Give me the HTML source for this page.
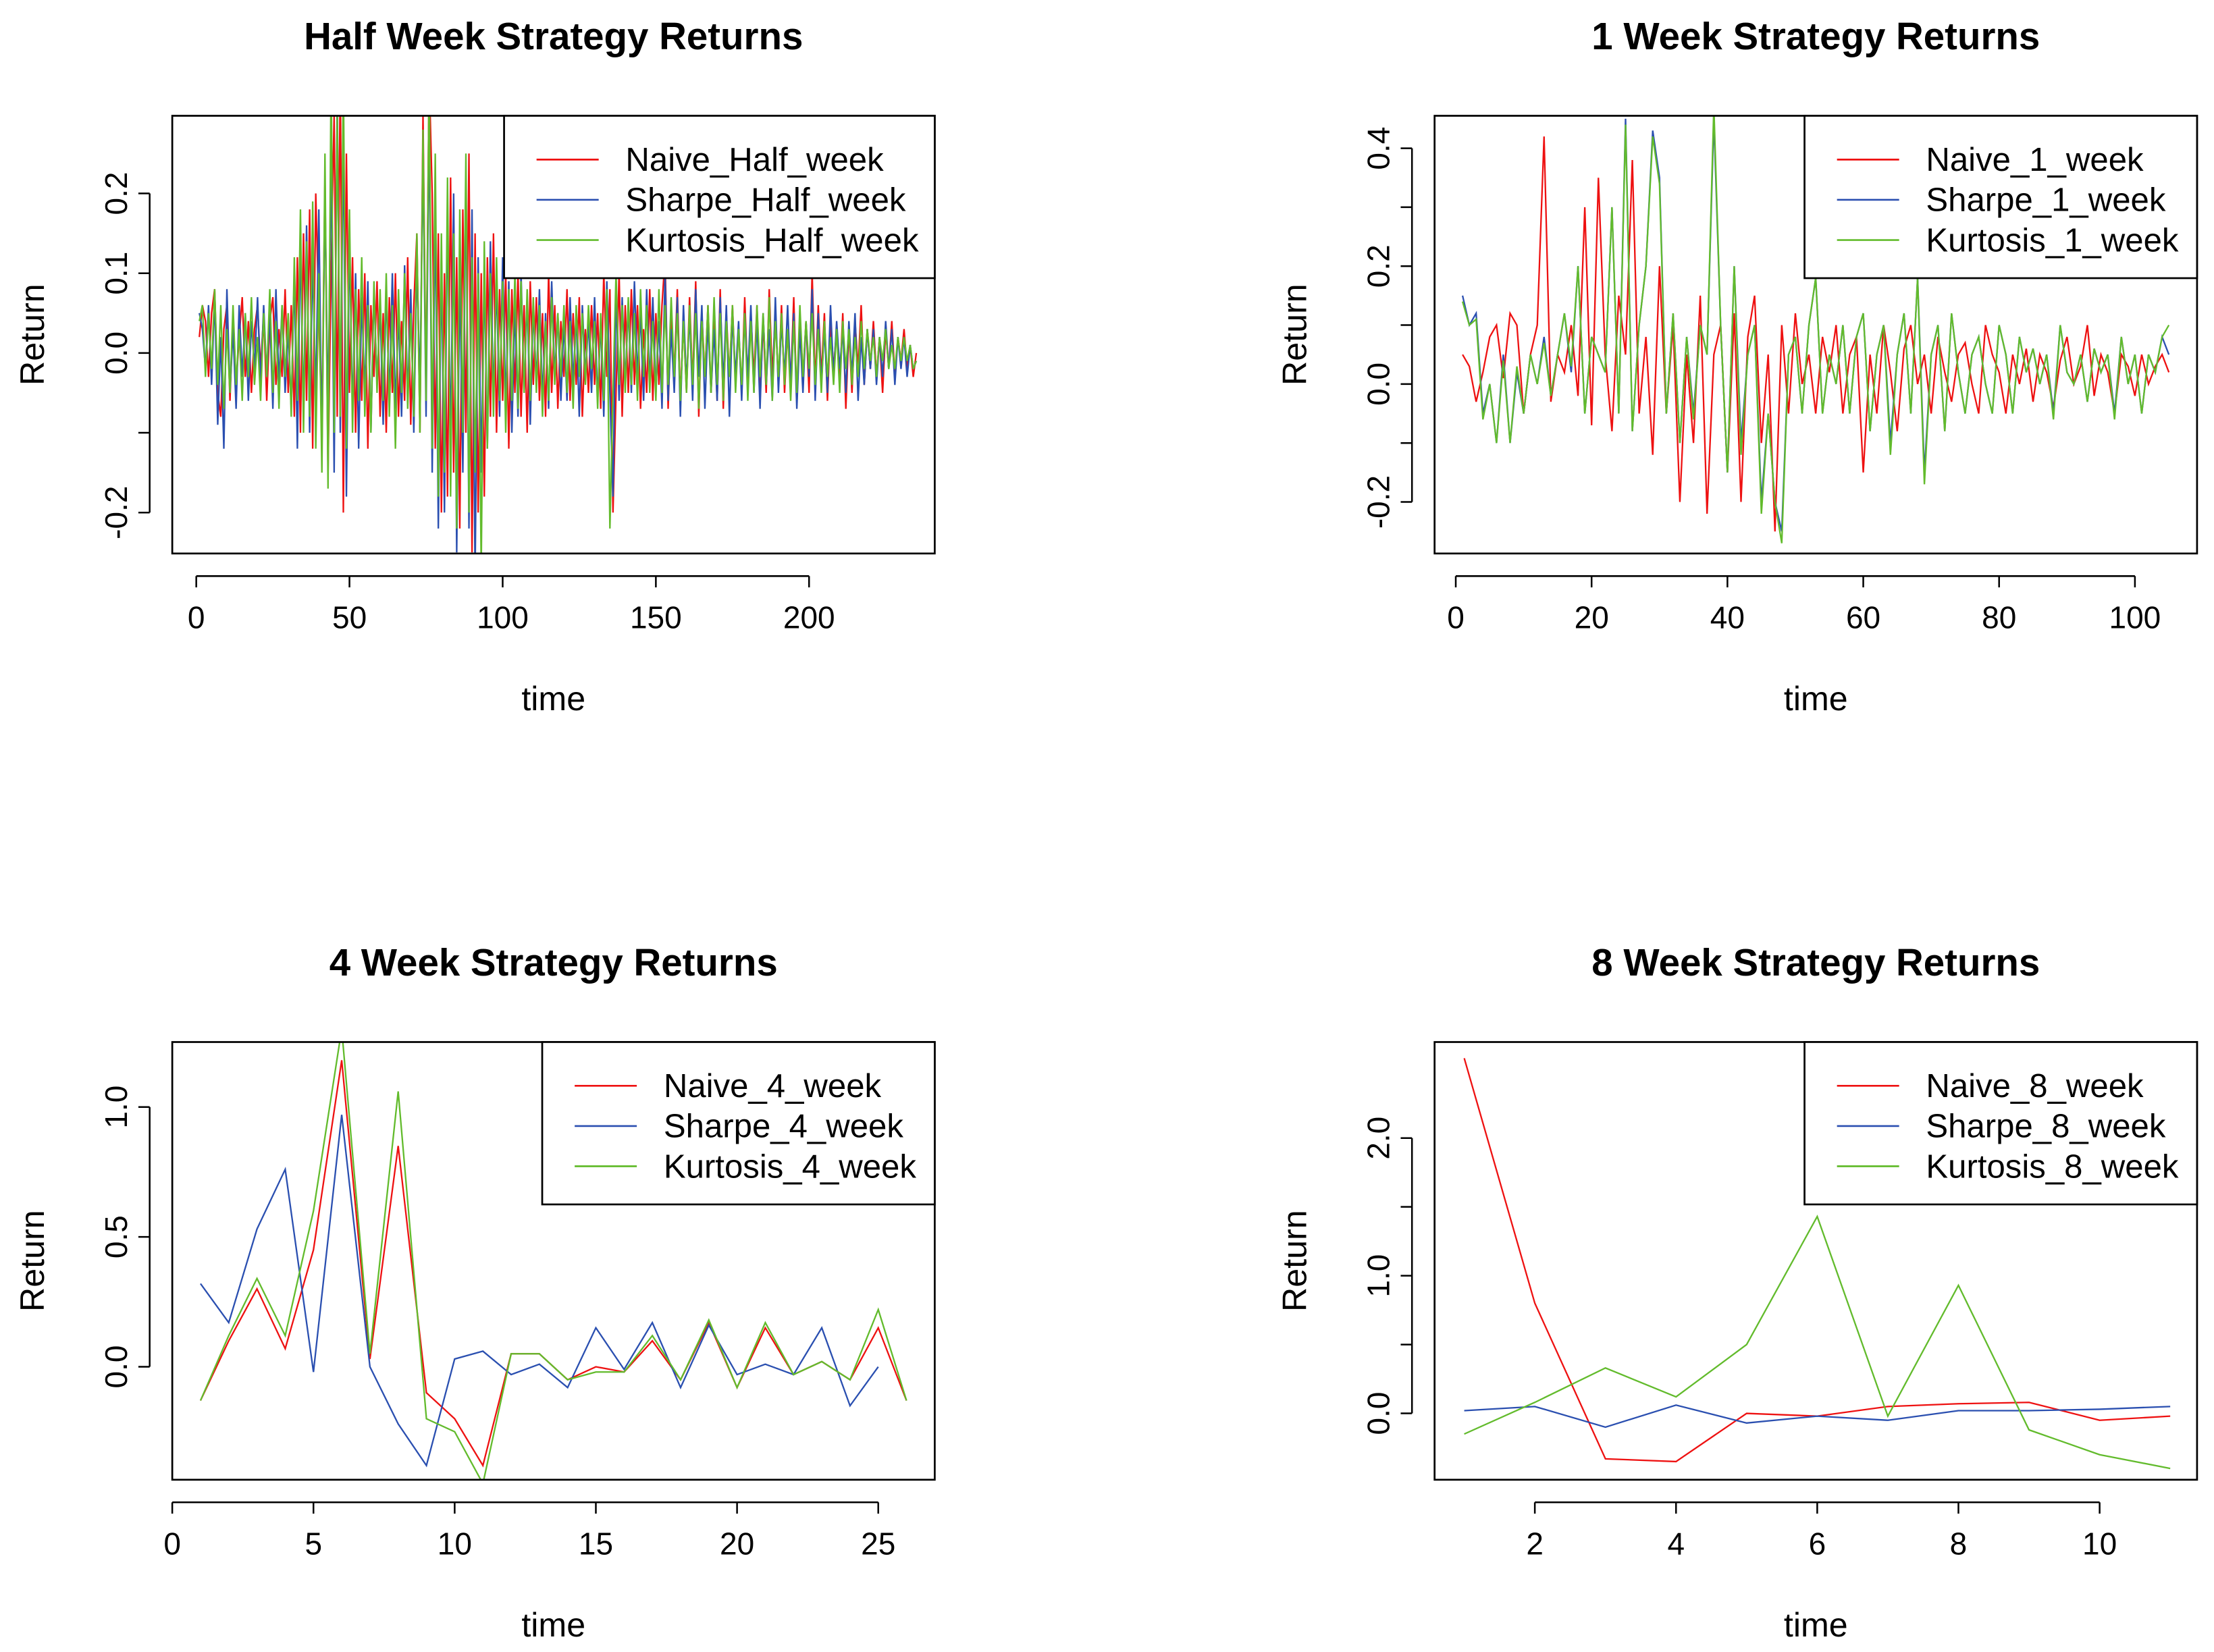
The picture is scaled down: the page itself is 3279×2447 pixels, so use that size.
<!DOCTYPE html>
<html><head><meta charset="utf-8"><style>
html,body{margin:0;padding:0;background:#fff;}
svg{display:block;}
text{font-family:"Liberation Sans",Arial,sans-serif;}
</style></head><body>
<svg id="chart" xmlns="http://www.w3.org/2000/svg" width="3279" height="2447" viewBox="0 0 1568 1170" preserveAspectRatio="none"></svg>
<script>
// ---- Half week data (hundredths) ----
const naiveHalf=[2,6,4,-3,5,8,-5,-8,3,6,-6,5,-4,2,7,-3,4,-5,3,6,-2,5,-6,4,7,-4,3,-3,8,-5,6,-8,12,-10,15,-6,18,-12,20,5,-10,22,-15,10,30,-8,35,-20,25,-5,12,-10,8,-6,10,-12,6,-3,9,-8,5,-10,7,-5,10,-8,4,-6,12,-9,6,15,-10,30,-5,35,20,-12,15,-20,10,-18,22,-15,12,-22,18,-10,25,-25,15,-20,10,-18,12,-8,15,-10,8,-6,10,-12,8,-5,10,-8,6,-10,9,-4,7,-6,5,-8,10,-5,6,-7,4,-3,8,-6,5,-4,7,-8,3,-5,6,-4,5,-7,10,-3,8,-20,-5,10,-8,6,-5,8,-4,6,-7,3,-5,8,-6,5,-4,6,12,-7,5,-3,8,-6,4,-5,7,-4,9,-8,5,-3,6,-5,4,-6,8,-7,5,-3,6,-4,3,-5,7,-4,5,-3,6,-6,4,-5,8,-3,5,-4,6,-5,3,-4,7,-6,5,-3,4,-5,10,-4,6,-3,5,-6,4,-2,3,-4,5,-7,3,-5,4,-2,6,-4,3,-2,4,-3,2,-5,3,-2,4,-3,2,-1,3,-2,1,-3,0];
const sharpeHalf=[5,3,-2,6,-4,7,-9,2,-12,8,-5,3,-7,6,-3,5,-6,4,-2,7,-4,6,-3,5,-7,8,-4,6,-5,3,-7,10,-12,14,-8,16,-10,12,-6,18,-12,20,-8,25,-15,32,-10,28,-18,15,-8,10,-12,7,-5,9,-10,8,-4,6,-9,8,-6,10,-7,5,-8,11,-6,8,-10,12,-5,25,-8,30,-15,18,-22,12,-20,18,-12,20,-25,10,-15,22,-22,18,-28,12,-15,10,-12,14,-6,9,-8,12,-7,9,-10,6,-8,10,-5,7,-9,6,-4,8,-6,5,-7,9,-3,5,-6,4,-6,7,-4,5,-8,6,-3,4,-5,7,-6,4,-8,9,-5,-18,8,-6,7,-4,6,-5,9,-3,5,-6,8,-4,7,-5,4,-7,10,-6,3,-5,7,-8,6,-4,5,-6,8,-3,6,-7,4,-5,3,-6,7,-4,6,-8,5,-3,4,-6,5,-3,6,-5,4,-7,5,-4,3,-6,7,-5,4,-3,6,-4,5,-7,3,-5,4,-3,8,-6,5,-4,3,-5,6,-3,4,-2,3,-5,4,-3,5,-6,2,-4,3,-2,3,-4,2,-3,4,-2,3,-4,2,-2,2,-3,1,-2,-1];
const kurtHalf=[4,6,-3,5,-2,8,-4,6,-7,3,-5,6,-4,3,-6,5,-3,7,-4,2,-6,5,-3,8,-5,4,-7,6,-3,5,-8,12,-6,18,-10,14,-8,19,-12,10,-15,25,-17,35,-10,30,-8,35,-12,18,-10,8,-6,12,-8,6,-10,9,-5,8,-6,10,-8,6,-12,8,-5,10,-7,5,-8,15,-10,28,-6,35,-12,25,-18,15,-15,22,-18,15,-22,18,-10,25,-20,12,-15,10,-27,14,-12,10,-8,12,-6,9,-10,8,-6,10,-7,9,-5,8,-6,7,-5,6,-8,4,-6,7,-4,5,-3,6,-5,4,-7,6,-3,5,-4,6,-2,4,-7,5,-6,8,-22,-5,10,-4,6,-5,7,-4,5,-6,8,-3,6,-5,4,-6,8,-5,6,-4,7,-3,5,-6,4,-5,6,-4,5,-7,4,-3,6,-5,7,-4,5,-6,4,-3,6,-5,3,-4,5,-6,4,-5,6,-3,5,-4,7,-6,4,-3,5,-4,3,-6,4,-5,6,-3,4,-2,5,-4,3,-5,4,-3,2,-4,3,-5,4,-2,3,-4,2,-3,4,-2,3,-1,2,-3,2,-1,3,-2,1,-2,2,-1,2,-1,1,-2,-1];
// ---- 1 week data ----
const naive1=[0.05,0.03,-0.03,0.02,0.08,0.1,0.01,0.12,0.1,-0.05,0.05,0.1,0.42,-0.03,0.05,0.02,0.1,-0.02,0.3,-0.07,0.35,0.05,-0.08,0.15,0.05,0.38,-0.05,0.08,-0.12,0.2,-0.05,0.1,-0.2,0.05,-0.1,0.15,-0.22,0.05,0.1,-0.15,0.12,-0.2,0.08,0.15,-0.1,0.05,-0.25,0.1,-0.05,0.12,0,0.05,-0.05,0.08,0.02,0.1,-0.05,0.05,0.08,-0.15,0.05,-0.05,0.1,0.02,-0.08,0.06,0.1,0,0.05,-0.05,0.08,0.02,-0.03,0.05,0.07,0,-0.05,0.1,0.05,0.02,-0.05,0.05,0,0.06,-0.03,0.05,0.02,-0.04,0.04,0.08,0,0.03,0.1,-0.02,0.05,0.02,-0.05,0.05,0.03,-0.02,0.05,0,0.03,0.05,0.02];
const sharpe1=[0.15,0.1,0.12,-0.05,0,-0.1,0.05,-0.1,0.02,-0.05,0.05,0,0.08,-0.02,0.05,0.12,0.02,0.2,-0.05,0.08,0.05,0.02,0.3,-0.05,0.45,-0.08,0.1,0.2,0.43,0.35,-0.05,0.12,-0.1,0.08,-0.05,0.1,0.05,0.45,0.1,-0.15,0.2,-0.1,0.05,0.1,-0.2,-0.05,-0.2,-0.25,0.05,0.08,-0.05,0.1,0.18,-0.05,0.05,0,0.1,-0.05,0.08,0.12,-0.08,0.05,0.1,-0.1,0.05,0.12,-0.05,0.18,-0.15,0.05,0.1,-0.08,0.12,0.02,-0.05,0.05,0.08,0,-0.05,0.1,0.05,-0.05,0.08,0.02,0.06,0,0.05,-0.05,0.1,0.02,0,0.05,-0.03,0.06,0.02,0.05,-0.05,0.08,0,0.05,-0.05,0.05,0.02,0.08,0.05];
const kurt1=[0.14,0.1,0.11,-0.06,0,-0.1,0.04,-0.1,0.03,-0.05,0.05,0,0.07,-0.02,0.05,0.12,0.03,0.2,-0.05,0.08,0.05,0.02,0.3,-0.05,0.44,-0.08,0.1,0.2,0.42,0.34,-0.05,0.12,-0.1,0.08,-0.06,0.1,0.05,0.47,0.1,-0.15,0.2,-0.12,0.05,0.1,-0.22,-0.05,-0.2,-0.27,0.05,0.08,-0.05,0.1,0.18,-0.05,0.05,0,0.1,-0.05,0.08,0.12,-0.08,0.05,0.1,-0.12,0.05,0.12,-0.05,0.18,-0.17,0.05,0.1,-0.08,0.12,0.02,-0.05,0.05,0.08,0,-0.05,0.1,0.05,-0.05,0.08,0.02,0.06,0,0.05,-0.06,0.1,0.02,0,0.05,-0.03,0.06,0.02,0.05,-0.06,0.08,0,0.05,-0.05,0.05,0.02,0.08,0.1];
// ---- 4 week data ----
const naive4=[-0.13,0.1,0.3,0.07,0.45,1.18,0.03,0.85,-0.1,-0.2,-0.38,0.05,0.05,-0.05,0,-0.02,0.1,-0.05,0.17,-0.08,0.15,-0.03,0.02,-0.05,0.15,-0.13];
const sharpe4=[0.32,0.17,0.53,0.76,-0.02,0.97,0,-0.22,-0.38,0.03,0.06,-0.03,0.01,-0.08,0.15,-0.01,0.17,-0.08,0.16,-0.03,0.01,-0.03,0.15,-0.15,0];
const kurt4=[-0.13,0.12,0.34,0.12,0.6,1.3,0.05,1.06,-0.2,-0.25,-0.45,0.05,0.05,-0.05,-0.02,-0.02,0.12,-0.05,0.18,-0.08,0.17,-0.03,0.02,-0.05,0.22,-0.13];
// ---- 8 week data ----
const naive8=[2.58,0.8,-0.33,-0.35,0,-0.02,0.05,0.07,0.08,-0.05,-0.02];
const sharpe8=[0.02,0.05,-0.1,0.06,-0.07,-0.02,-0.05,0.02,0.02,0.03,0.05];
const kurt8=[-0.15,0.08,0.33,0.12,0.5,1.43,-0.02,0.93,-0.12,-0.3,-0.4];
// ---- ticks ----
const xTicksHalf=[0,50,100,150,200];
const yTicksHalf=[-0.2,-0.1,0,0.1,0.2];
const yLabelsHalf=["-0.2","","0.0","0.1","0.2"];
const xTicks1=[0,20,40,60,80,100];
const yTicks1=[-0.2,-0.1,0,0.1,0.2,0.3,0.4];
const yLabels1=["-0.2","","0.0","","0.2","","0.4"];
const xTicks4=[0,5,10,15,20,25];
const yTicks4=[0,0.5,1.0];
const yLabels4=["0.0","0.5","1.0"];
const xTicks8=[2,4,6,8,10];
const yTicks8=[0,0.5,1.0,1.5,2.0];
const yLabels8=["0.0","","1.0","","2.0"];

const NS="http://www.w3.org/2000/svg";
const svg=document.getElementById('chart');
const COLORS=["#ee1111","#2a4fb0","#62bb2c"];
function mk(tag,attrs,parent){const e=document.createElementNS(NS,tag);for(const k in attrs)e.setAttribute(k,attrs[k]);(parent||svg).appendChild(e);return e;}

function panel(id,cfg){
  const g=mk('g',{});
  
  
  const L=cfg.box[0],R=cfg.box[1],T=cfg.box[2],B=cfg.box[3];
  const xs=v=>cfg.x0px+(v-cfg.x0v)*cfg.xk;
  const ys=v=>cfg.y0px-(v-cfg.y0v)*cfg.yk;
  const t=mk('text',{x:(L+R)/2,y:T-47,'text-anchor':'middle','font-size':27,'font-weight':'bold',fill:'#000'},g);
  t.textContent=cfg.title;
  
  
  const cp=mk('clipPath',{id:'clip-'+id},g);
  mk('rect',{x:L,y:T,width:R-L,height:B-T},cp);
  cfg.series.forEach((s,i)=>{
    const pts=s.vals.map((v,j)=>xs(cfg.xStart+j)+','+ys(v*cfg.scale)).join(' ');
    const pl=mk('polyline',{points:pts,fill:'none',stroke:COLORS[i],'stroke-width':1.1,'clip-path':'url(#clip-'+id+')'},g);
    
    
  });
  const box=mk('rect',{x:L,y:T,width:R-L,height:B-T,fill:'none',stroke:'#000','stroke-width':1.3},g);
  
  
  // x axis
  const ax=B+16;
  const xa=mk('g',{},g);
  
  
  const xt=cfg.xTicks;
  mk('line',{x1:xs(xt[0]),x2:xs(xt[xt.length-1]),y1:ax,y2:ax,stroke:'#000','stroke-width':1.2},xa);
  xt.forEach(v=>{
    mk('line',{x1:xs(v),x2:xs(v),y1:ax,y2:ax+8,stroke:'#000','stroke-width':1.2},xa);
    const tl=mk('text',{x:xs(v),y:ax+37,'text-anchor':'middle','font-size':22,fill:'#000'},xa);
    tl.textContent=v;
    
    
  });
  const xl=mk('text',{x:(L+R)/2,y:B+111,'text-anchor':'middle','font-size':24,fill:'#000'},g);
  xl.textContent='time';
  
  
  // y axis
  const ay=L-16;
  const ya=mk('g',{},g);
  
  
  const yt=cfg.yTicks;
  mk('line',{x1:ay,x2:ay,y1:ys(yt[0]),y2:ys(yt[yt.length-1]),stroke:'#000','stroke-width':1.2},ya);
  yt.forEach((v,i)=>{
    mk('line',{x1:ay-8,x2:ay,y1:ys(v),y2:ys(v),stroke:'#000','stroke-width':1.2},ya);
    if(cfg.yLabels[i]){
      const tl=mk('text',{x:0,y:0,'text-anchor':'middle','font-size':22,fill:'#000',transform:'translate('+(ay-16)+','+ys(v)+') rotate(-90)'},ya);
      tl.textContent=cfg.yLabels[i];
      
      
    }
  });
  const yl=mk('text',{x:0,y:0,'text-anchor':'middle','font-size':24,fill:'#000',transform:'translate('+(L-91)+','+((T+B)/2)+') rotate(-90)'},g);
  yl.textContent='Return';
  
  
  // legend
  const lg=mk('g',{},g);
  
  
  const lx=cfg.legX;
  mk('rect',{x:lx,y:T,width:R-lx,height:115,fill:'#fff',stroke:'#000','stroke-width':1.3},lg);
  cfg.series.forEach((s,i)=>{
    const yy=T+31+i*28.5;
    const e=mk('g',{},lg);
    
    
    mk('line',{x1:lx+23,x2:lx+67,y1:yy,y2:yy,stroke:COLORS[i],'stroke-width':1.3},e);
    const tx=mk('text',{x:lx+86,y:yy+8,'font-size':23.5,fill:'#000'},e);
    tx.textContent=s.label;
  });
}

panel('half-week',{title:'Half Week Strategy Returns',box:[122,662,82,392],x0px:139,x0v:0,xk:2.17,y0px:250,y0v:0,yk:565,xStart:1,scale:0.01,
  xTicks:xTicksHalf,yTicks:yTicksHalf,yLabels:yLabelsHalf,legX:357,
  series:[{key:'naive',vals:naiveHalf,label:'Naive_Half_week'},{key:'sharpe',vals:sharpeHalf,label:'Sharpe_Half_week'},{key:'kurtosis',vals:kurtHalf,label:'Kurtosis_Half_week'}]});
panel('one-week',{title:'1 Week Strategy Returns',box:[1016,1556,82,392],x0px:1031,x0v:0,xk:4.81,y0px:272,y0v:0,yk:417.5,xStart:1,scale:1,
  xTicks:xTicks1,yTicks:yTicks1,yLabels:yLabels1,legX:1278,
  series:[{key:'naive',vals:naive1,label:'Naive_1_week'},{key:'sharpe',vals:sharpe1,label:'Sharpe_1_week'},{key:'kurtosis',vals:kurt1,label:'Kurtosis_1_week'}]});
panel('four-week',{title:'4 Week Strategy Returns',box:[122,662,738,1048],x0px:122,x0v:0,xk:20,y0px:968,y0v:0,yk:184,xStart:1,scale:1,
  xTicks:xTicks4,yTicks:yTicks4,yLabels:yLabels4,legX:384,
  series:[{key:'naive',vals:naive4,label:'Naive_4_week'},{key:'sharpe',vals:sharpe4,label:'Sharpe_4_week'},{key:'kurtosis',vals:kurt4,label:'Kurtosis_4_week'}]});
panel('eight-week',{title:'8 Week Strategy Returns',box:[1016,1556,738,1048],x0px:1087,x0v:2,xk:50,y0px:1001,y0v:0,yk:97.5,xStart:1,scale:1,
  xTicks:xTicks8,yTicks:yTicks8,yLabels:yLabels8,legX:1278,
  series:[{key:'naive',vals:naive8,label:'Naive_8_week'},{key:'sharpe',vals:sharpe8,label:'Sharpe_8_week'},{key:'kurtosis',vals:kurt8,label:'Kurtosis_8_week'}]});
</script>
</body></html>
